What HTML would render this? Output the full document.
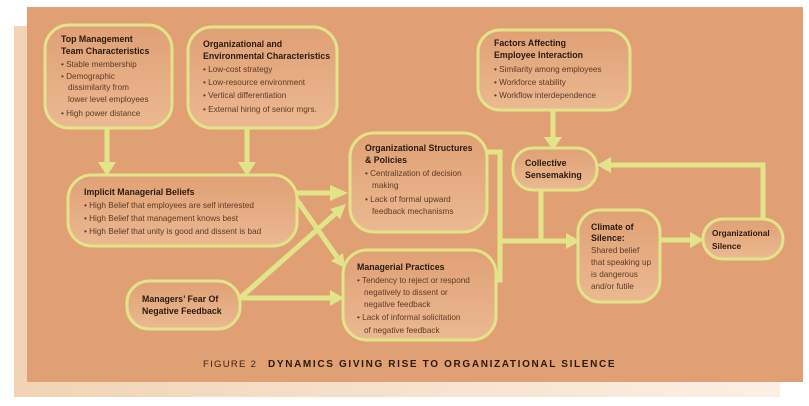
<!DOCTYPE html>
<html><head><meta charset="utf-8"><style>
html,body{margin:0;padding:0;background:#fff;}
svg{display:block;font-family:"Liberation Sans",sans-serif;}
.t{font-size:8.8px;font-weight:bold;fill:#2a1a10;}
.b{font-size:8.2px;fill:#5a3a28;}
</style></head><body>
<svg width="809" height="406" viewBox="0 0 809 406">
<defs>
<linearGradient id="lg" x1="0" x2="1"><stop offset="0" stop-color="#f2d3b4"/><stop offset="1" stop-color="#fbefe4"/></linearGradient>
<linearGradient id="bx" x1="0" y1="0" x2="0" y2="1"><stop offset="0" stop-color="#e0a074"/><stop offset="1" stop-color="#ebb991"/></linearGradient>
</defs>
<rect x="14" y="26" width="766" height="371" fill="url(#lg)"/>
<rect x="27" y="7" width="776" height="375" fill="#e0a074"/>
<g fill="none" stroke="#e2e48a" stroke-width="5">
<path d="M107 128V164M247 128V164M553 110V140"/>
<path d="M297 193H334M297 200L337 257M240 298L335 214M240 298H332"/>
<path d="M487 152H500V241H568M496 280H500V241M541 190V241M660 240H692M763 219V165H607"/>
</g>
<g fill="#e2e48a">
<polygon points="98,162 116,162 107,176"/><polygon points="238,162 256,162 247,176"/><polygon points="544,137 562,137 553,150"/>
<polygon points="330,185 330,201 348,193"/>
<polygon points="343,253 331,261 345,268"/>
<polygon points="340,219 330,209 346,204"/>
<polygon points="330,290 330,306 344,298"/><polygon points="566,233 566,249 580,241"/><polygon points="690,232 690,248 704,240"/><polygon points="611,157 611,173 597,165"/>
</g>
<g fill="url(#bx)" stroke="#e2e48a" stroke-width="3">
<rect x="45" y="25" width="127" height="103" rx="24"/>
<rect x="188" y="27" width="149" height="101" rx="24"/>
<rect x="478" y="30" width="152" height="80" rx="22"/>
<rect x="68" y="175" width="229" height="71" rx="24"/>
<rect x="350" y="133" width="137" height="99" rx="24"/>
<rect x="513" y="148" width="84" height="42" rx="20"/>
<rect x="343" y="250" width="153" height="90" rx="24"/>
<rect x="127" y="281" width="113" height="48" rx="22"/>
<rect x="578" y="210" width="82" height="92" rx="22"/>
<rect x="703" y="219" width="80" height="40" rx="20"/>
</g>
<text class="t" x="61" y="42">Top Management</text><text class="t" x="61" y="54">Team Characteristics</text>
<text class="b" x="61" y="67">• Stable membership</text><text class="b" x="61" y="79">• Demographic</text><text class="b" x="68" y="90">dissimilarity from</text><text class="b" x="68" y="102">lower level employees</text><text class="b" x="61" y="116">• High power distance</text>
<text class="t" x="203" y="47">Organizational and</text><text class="t" x="203" y="59">Environmental Characteristics</text>
<text class="b" x="203" y="72">• Low-cost strategy</text><text class="b" x="203" y="85">• Low-resource environment</text><text class="b" x="203" y="98">• Vertical differentiation</text><text class="b" x="203" y="112">• External hiring of  senior mgrs.</text>
<text class="t" x="494" y="46">Factors Affecting</text><text class="t" x="494" y="58">Employee Interaction</text>
<text class="b" x="494" y="72">• Similarity among employees</text><text class="b" x="494" y="85">• Workforce stability</text><text class="b" x="494" y="98">• Workflow interdependence</text>
<text class="t" x="84" y="195">Implicit Managerial Beliefs</text>
<text class="b" x="84" y="208">• High Belief that employees are self interested</text><text class="b" x="84" y="221">• High Belief that management knows best</text><text class="b" x="84" y="234">• High Belief that unity is good and dissent is bad</text>
<text class="t" x="365" y="151">Organizational Structures</text><text class="t" x="365" y="163">&amp; Policies</text>
<text class="b" x="365" y="176">• Centralization of decision</text><text class="b" x="372" y="188">making</text><text class="b" x="365" y="202">• Lack of formal upward</text><text class="b" x="372" y="214">feedback mechanisms</text>
<text class="t" x="525" y="166">Collective</text><text class="t" x="525" y="178">Sensemaking</text>
<text class="t" x="357" y="270">Managerial Practices</text>
<text class="b" x="357" y="283">• Tendency to reject or respond</text><text class="b" x="364" y="295">negatively to dissent or</text><text class="b" x="364" y="307">negative feedback</text><text class="b" x="357" y="320">• Lack of  informal solicitation</text><text class="b" x="364" y="333">of negative feedback</text>
<text class="t" x="142" y="302">Managers’ Fear Of</text><text class="t" x="142" y="314">Negative Feedback</text>
<text class="t" x="591" y="230">Climate of</text><text class="t" x="591" y="241">Silence:</text>
<text class="b" x="591" y="253">Shared belief</text><text class="b" x="591" y="265">that speaking up</text><text class="b" x="591" y="277">is dangerous</text><text class="b" x="591" y="289">and/or futile</text>
<text class="t" x="712" y="236" style="font-size:8.3px">Organizational</text><text class="t" x="712" y="249" style="font-size:8.3px">Silence</text>
<text x="203" y="367" font-size="9.5" letter-spacing="1.3" fill="#3a2418">FIGURE 2</text>
<text x="268" y="367" font-size="10" font-weight="bold" letter-spacing="1.65" fill="#2a1a10">DYNAMICS GIVING RISE TO ORGANIZATIONAL SILENCE</text>
</svg>
</body></html>
